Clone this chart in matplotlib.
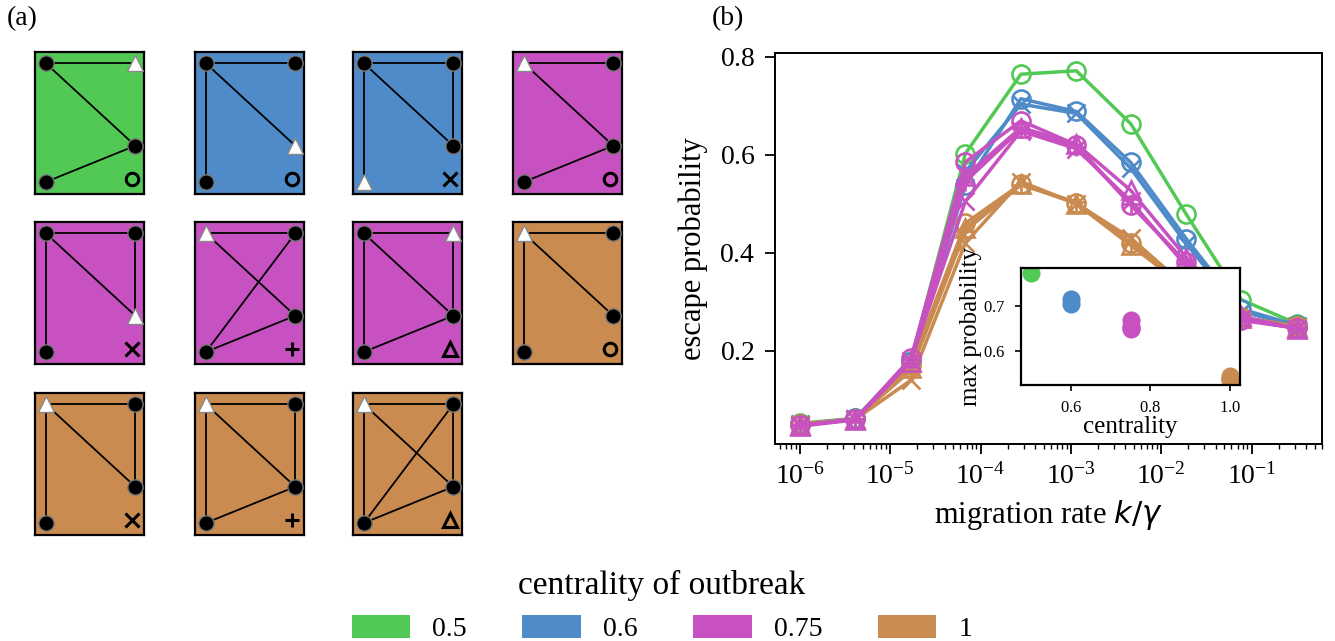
import numpy as np
import matplotlib
matplotlib.use("Agg")
import matplotlib.pyplot as plt
from matplotlib.patches import Patch

plt.rcParams['font.family'] = ['Liberation Serif', 'DejaVu Serif']
plt.rcParams['mathtext.fontset'] = 'dejavusans'
plt.rcParams['axes.formatter.use_mathtext'] = True

# colours per centrality of the outbreak node
cent_levels = [0.5, 0.6, 0.75, 1]
cent_colors = {0.5: '#52c954', 0.6: '#4f8bc9', 0.75: '#c851c1', 1: '#c98b4f'}

# the 11 graphs of panel (a)
graph_edges = [
    [('TL', 'TR'), ('TL', 'MR'), ('MR', 'BL')],
    [('TL', 'TR'), ('TL', 'MR'), ('TL', 'BL')],
    [('TL', 'TR'), ('TL', 'MR'), ('TR', 'MR'), ('TL', 'BL')],
    [('TL', 'TR'), ('TL', 'MR'), ('MR', 'BL')],
    [('TL', 'TR'), ('TL', 'MR'), ('TR', 'MR'), ('TL', 'BL')],
    [('TL', 'TR'), ('TL', 'MR'), ('TR', 'BL'), ('MR', 'BL')],
    [('TL', 'TR'), ('TL', 'MR'), ('TR', 'MR'), ('TL', 'BL'), ('MR', 'BL')],
    [('TL', 'TR'), ('TL', 'MR'), ('TL', 'BL')],
    [('TL', 'TR'), ('TL', 'MR'), ('TR', 'MR'), ('TL', 'BL')],
    [('TL', 'TR'), ('TL', 'MR'), ('TR', 'MR'), ('TL', 'BL'), ('MR', 'BL')],
    [('TL', 'TR'), ('TL', 'MR'), ('TR', 'MR'), ('TL', 'BL'), ('TR', 'BL'), ('MR', 'BL')],
]
outbreak = ['TR', 'MR', 'BL', 'TL', 'MR', 'TL', 'TR', 'TL', 'TL', 'TL', 'TL']
symbols = ['o', 'o', 'x', 'o', 'x', '+', '^', 'o', 'x', '+', '^']
centrality = [0.5, 0.6, 0.6, 0.75, 0.75, 0.75, 0.75, 1, 1, 1, 1]

# panel (b): escape probability vs migration rate
rate = [1e-6, 4.1e-6, 1.7e-5, 6.8e-5, 2.8e-4, 1.15e-3, 4.6e-3, 1.9e-2, 7.7e-2, 3.2e-1]
escape = [
    [0.052, 0.062, 0.180, 0.602, 0.764, 0.771, 0.663, 0.478, 0.304, 0.255],
    [0.050, 0.062, 0.178, 0.537, 0.714, 0.688, 0.584, 0.428, 0.285, 0.252],
    [0.050, 0.061, 0.172, 0.565, 0.703, 0.684, 0.572, 0.418, 0.280, 0.250],
    [0.048, 0.060, 0.185, 0.585, 0.669, 0.620, 0.497, 0.380, 0.262, 0.246],
    [0.047, 0.060, 0.180, 0.505, 0.648, 0.612, 0.505, 0.372, 0.265, 0.245],
    [0.048, 0.060, 0.183, 0.545, 0.652, 0.615, 0.500, 0.376, 0.264, 0.246],
    [0.046, 0.059, 0.178, 0.556, 0.655, 0.622, 0.527, 0.390, 0.270, 0.245],
    [0.050, 0.061, 0.170, 0.460, 0.540, 0.502, 0.420, 0.335, 0.268, 0.250],
    [0.049, 0.060, 0.140, 0.420, 0.545, 0.500, 0.430, 0.330, 0.265, 0.248],
    [0.050, 0.061, 0.160, 0.445, 0.538, 0.503, 0.418, 0.332, 0.268, 0.250],
    [0.049, 0.060, 0.165, 0.450, 0.540, 0.500, 0.415, 0.328, 0.266, 0.249],
]

W, H = 1335, 641
fig = plt.figure(figsize=(W / 100, H / 100), dpi=100)


def px_axes(x0, y0, w, h):
    return fig.add_axes([x0 / W, 1 - (y0 + h) / H, w / W, h / H])


# ---- panel (a) ----
node_pos = {'TL': (0.10, 0.92), 'TR': (0.92, 0.92), 'MR': (0.92, 0.34), 'BL': (0.10, 0.085)}
col_x = [35, 195, 353, 513]
row_y = [52, 222, 393]
for i, edges in enumerate(graph_edges):
    ax = px_axes(col_x[i % 4], row_y[i // 4], 109, 142)
    ax.set_facecolor(cent_colors[centrality[i]])
    ax.set_xlim(0, 1)
    ax.set_ylim(0, 1)
    ax.set_xticks([])
    ax.set_yticks([])
    for s in ax.spines.values():
        s.set_linewidth(1.6)
    for a, b in edges:
        ax.plot([node_pos[a][0], node_pos[b][0]], [node_pos[a][1], node_pos[b][1]],
                color='black', lw=1.3, zorder=1)
    for n, (nx, ny) in node_pos.items():
        if n == outbreak[i]:
            ax.plot(nx, ny, marker='^', ms=11, mfc='white', mec='#888888', mew=1, zorder=3)
        else:
            ax.plot(nx, ny, marker='o', ms=11, mfc='black', mec='#777777', mew=1, zorder=3)
    ax.plot(0.89, 0.105, marker=symbols[i], ms=10 if symbols[i] != 'o' else 9,
            mfc='none', mec='black', mew=2.2)

fig.text(7 / W, 1 - 19 / H, '(a)', fontsize=20, va='center', ha='left')
fig.text(712 / W, 1 - 19 / H, '(b)', fontsize=20, va='center', ha='left')

# ---- panel (b) ----
ax = px_axes(775, 53, 547, 391)
order = [0, 1, 2, 7, 8, 9, 10, 3, 4, 5, 6]
for i in order:
    ax.plot(rate, escape[i], color=cent_colors[centrality[i]], marker=symbols[i],
            ms=13, mfc='none', mew=1.9, lw=2.5)
ax.set_xscale('log')
ax.set_yticks([0.2, 0.4, 0.6, 0.8])
ax.set_xticks([1e-6, 1e-5, 1e-4, 1e-3, 1e-2, 1e-1])
ax.tick_params(which='major', labelsize=20, length=7, width=1.3, pad=7)
ax.tick_params(which='minor', length=3.5, width=1)
for s in ax.spines.values():
    s.set_linewidth(1.4)
ax.set_xlabel(r'migration rate $k/\gamma$', fontsize=22, labelpad=6)
ax.set_ylabel('escape probability', fontsize=22, labelpad=8)

# inset: maximum escape probability vs centrality
ins = px_axes(1021, 268, 219, 117)
max_prob = [max(e) for e in escape]
for i in order:
    ins.scatter(centrality[i], max_prob[i], s=170, color=cent_colors[centrality[i]],
                linewidths=0)
ins.set_xticks([0.6, 0.8, 1.0])
ins.set_yticks([0.6, 0.7])
ins.tick_params(labelsize=12, length=4, width=1.2, pad=7)
for s in ins.spines.values():
    s.set_linewidth(1.6)
ins.set_xlabel('centrality', fontsize=18, labelpad=0)
ins.set_ylabel('max probability', fontsize=18, labelpad=1)

# legend
handles = [Patch(facecolor=cent_colors[c], edgecolor='none', label=str(c)) for c in cent_levels]
fig.legend(handles=handles, ncol=4, loc='lower center', bbox_to_anchor=(662 / W, -0.04),
           frameon=False, fontsize=20, title='centrality of outbreak', title_fontsize=24,
           handlelength=2.1, handleheight=0.9, columnspacing=2.0, handletextpad=0.8)

fig.savefig('out.png', dpi=100)
